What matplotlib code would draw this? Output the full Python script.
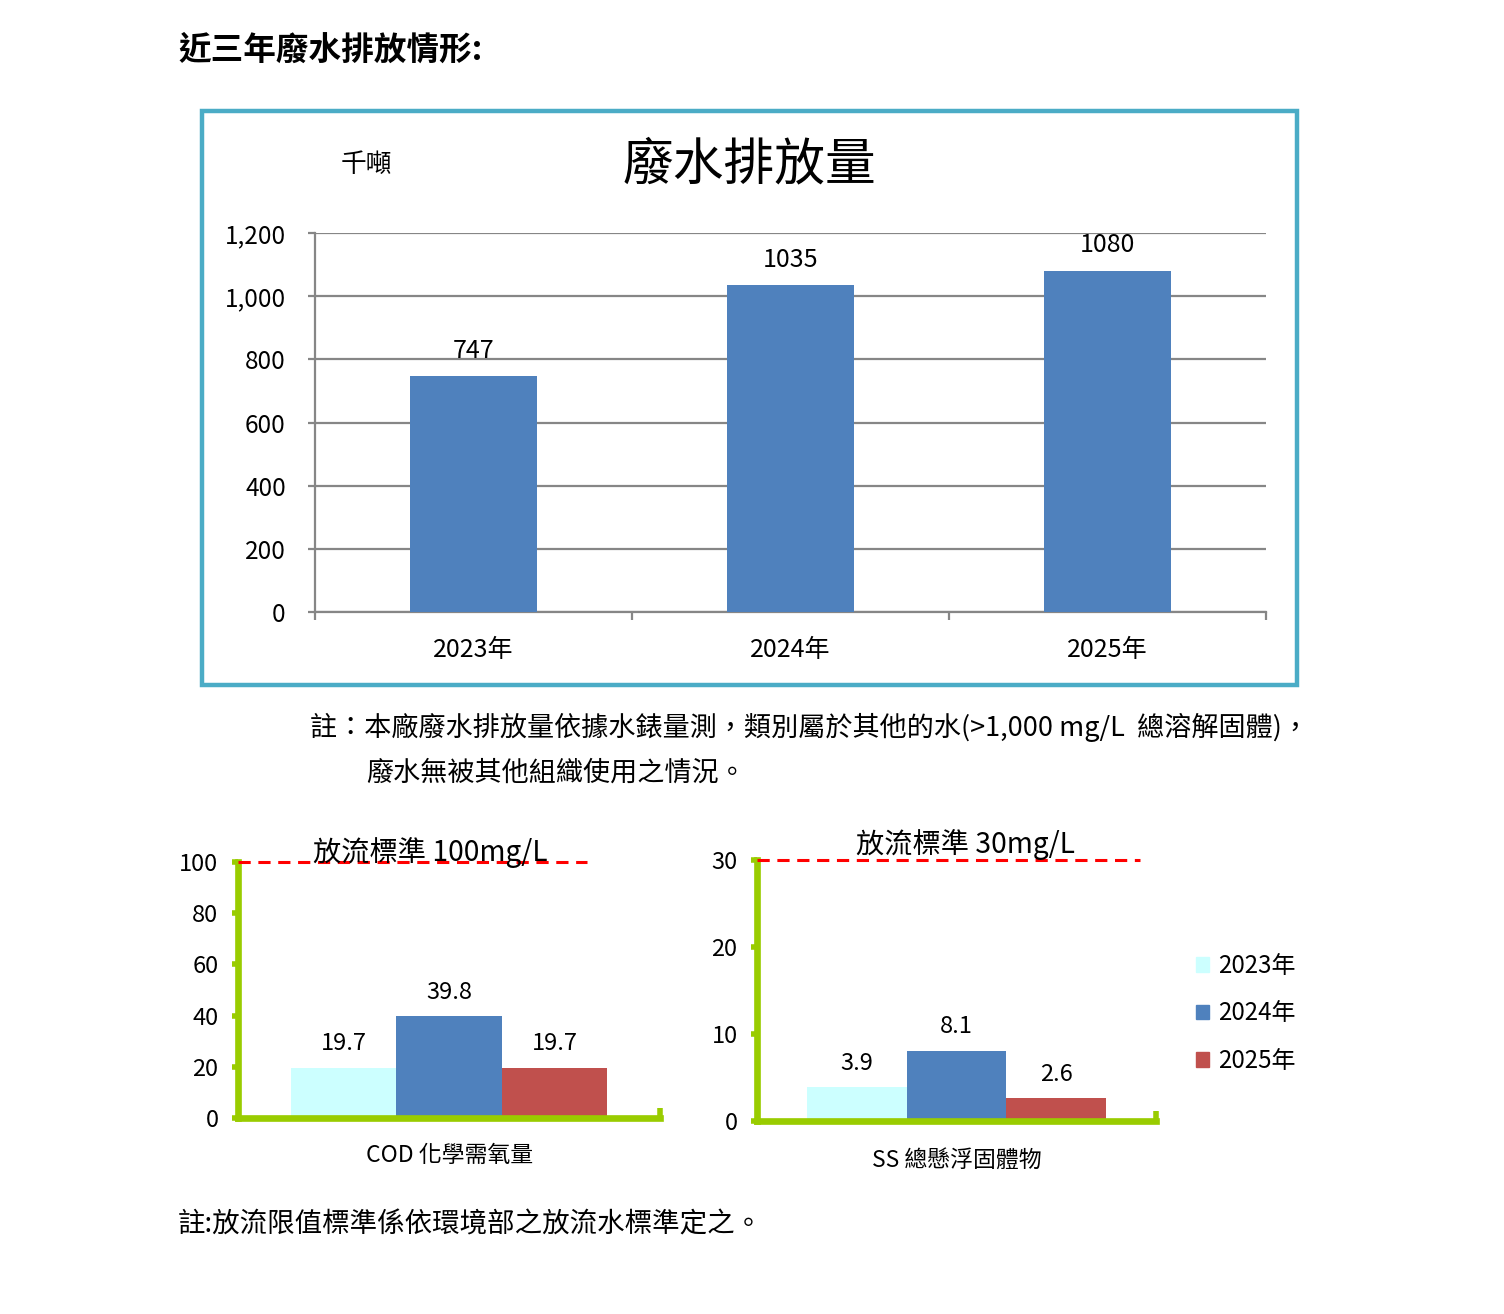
import matplotlib
matplotlib.use('Agg')
import matplotlib.pyplot as plt
import matplotlib.patches as mpatches
import numpy as np

plt.rcParams['font.family'] = ['Noto Sans CJK TC', 'DejaVu Sans']

# Data
years = ['2023年', '2024年', '2025年']
discharge = [747, 1035, 1080]          # 千噸
cod_values = [19.7, 39.8, 19.7]        # mg/L
ss_values = [3.9, 8.1, 2.6]            # mg/L
cod_limit = 100
ss_limit = 30
cod_ticks = [0, 20, 40, 60, 80, 100]
ss_ticks = [0, 10, 20, 30]
top_ticks = [0, 200, 400, 600, 800, 1000, 1200]

blue = '#4F81BD'
bar_colors = ['#CCFFFF', '#4F81BD', '#C0504D']
grid_gray = '#868686'
green = '#99CC00'
teal = '#4BACC6'

fig = plt.figure(figsize=(15.04, 13.14), dpi=100)

# Header
fig.text(0.1184, 0.962, '近三年廢水排放情形:', fontsize=23.5, fontweight='bold',
         ha='left', va='center')

# Border around the top chart
fig.add_artist(mpatches.Rectangle((0.1343, 0.4787), 0.7281, 0.4368,
                                  transform=fig.transFigure, fill=False,
                                  edgecolor=teal, linewidth=3.2))

# Top chart: total discharge
ax = fig.add_axes([0.2094, 0.5342, 0.6324, 0.2884])
x = np.arange(len(years))
bars = ax.bar(x, discharge, width=0.40, color=blue, zorder=3)
ax.set_xlim(-0.5, 2.5)
ax.set_ylim(0, 1200)
ax.set_yticks(top_ticks)
ax.set_yticklabels([f'{v:,}' for v in top_ticks], fontsize=17.5)
ax.yaxis.grid(True, color=grid_gray, linewidth=1.6, zorder=0)
ax.set_axisbelow(True)
ax.set_xticks(np.arange(-0.5, 3, 1.0))
ax.set_xticklabels([])
ax.set_xticks(x, minor=True)
ax.set_xticklabels(years, minor=True, fontsize=18)
ax.tick_params(axis='x', which='major', length=6, width=1.6, color=grid_gray, direction='out')
ax.tick_params(axis='x', which='minor', length=0, pad=18)
ax.tick_params(axis='y', length=5, width=1.6, color=grid_gray, pad=16)
for side in ['top', 'right']:
    ax.spines[side].set_visible(False)
for side in ['left', 'bottom']:
    ax.spines[side].set_color(grid_gray)
    ax.spines[side].set_linewidth(1.6)
for b, v in zip(bars, discharge):
    ax.annotate(str(v), (b.get_x() + b.get_width() / 2, v), xytext=(0, 9),
                textcoords='offset points', ha='center', va='bottom', fontsize=18)

fig.text(0.498, 0.8744, '廢水排放量', fontsize=36.5, ha='center', va='center')
fig.text(0.2434, 0.8744, '千噸', fontsize=18.5, ha='center', va='center')

# Notes under the top chart
fig.text(0.2061, 0.4467,
         '註：本廠廢水排放量依據水錶量測，類別屬於其他的水(>1,000 mg/L  總溶解固體)，',
         fontsize=19.5, ha='left', va='center')
fig.text(0.2434, 0.4117, '廢水無被其他組織使用之情況。', fontsize=19.5,
         ha='left', va='center')


def small_chart(rect, values, ticks, limit, dash_end, xlabel, title, title_xy, xlabel_xy):
    a = fig.add_axes(rect)
    offsets = np.array([-1, 0, 1]) * 0.25
    rects = a.bar(offsets, values, width=0.25, color=bar_colors, zorder=2)
    a.set_xlim(-0.5, 0.5)
    a.set_ylim(0, ticks[-1])
    a.set_yticks(ticks)
    a.set_yticklabels([str(t) for t in ticks], fontsize=17)
    a.tick_params(axis='y', length=4, width=4, color=green, pad=10)
    a.set_xticks([0.5])
    a.set_xticklabels([])
    a.tick_params(axis='x', length=7, width=4, color=green, direction='in')
    for side in ['top', 'right']:
        a.spines[side].set_visible(False)
    for side in ['left', 'bottom']:
        a.spines[side].set_color(green)
        a.spines[side].set_linewidth(4.8)
        a.spines[side].set_capstyle('projecting')
    a.axhline(limit, xmin=0, xmax=dash_end, color='#FF0000', linewidth=2.2,
              linestyle=(0, (4, 2.5)), zorder=3, clip_on=False)
    for r, v in zip(rects, values):
        a.annotate(f'{v}', (r.get_x() + r.get_width() / 2, v), xytext=(0, 9),
                   textcoords='offset points', ha='center', va='bottom', fontsize=17)
    fig.text(title_xy[0], title_xy[1], title, fontsize=20.3, ha='center', va='center')
    fig.text(xlabel_xy[0], xlabel_xy[1], xlabel, fontsize=16.5, ha='center', va='center')
    return rects


cod_rects = small_chart([0.1582, 0.1492, 0.2806, 0.1948], cod_values, cod_ticks, cod_limit,
                        0.827, 'COD 化學需氧量', '放流標準 100mg/L', (0.286, 0.3516), (0.299, 0.121))
ss_rects = small_chart([0.5033, 0.1469, 0.2653, 0.1986], ss_values, ss_ticks, ss_limit,
                       0.96, 'SS 總懸浮固體物', '放流標準 30mg/L', (0.642, 0.357), (0.636, 0.117))

handles = [mpatches.Patch(color=c) for c in bar_colors]
fig.legend(handles, years, loc='upper left', bbox_to_anchor=(0.787, 0.284),
           frameon=False, fontsize=17.3, handlelength=0.55, handleheight=0.55,
           handletextpad=0.4, labelspacing=0.9, borderpad=0)

fig.text(0.1184, 0.068, '註:放流限值標準係依環境部之放流水標準定之。', fontsize=19.8,
         ha='left', va='center')

fig.savefig('out.png', dpi=100)
